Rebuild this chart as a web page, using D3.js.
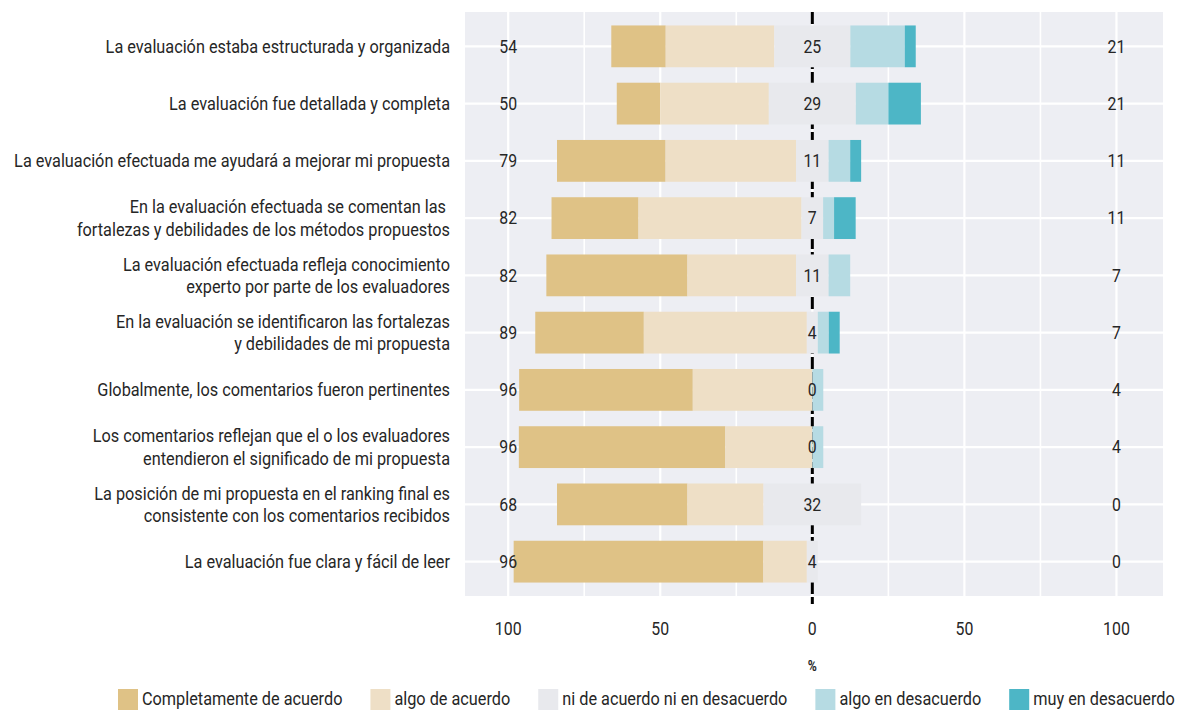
<!DOCTYPE html>
<html>
<head>
<meta charset="utf-8">
<script src="https://cdn.jsdelivr.net/npm/d3@7"></script>
<style>
  body { margin: 0; background: #fff; }
  text { font-family: Roboto, "Liberation Sans", sans-serif; fill: #262626; }
</style>
</head>
<body>
<div id="chart"></div>
<script>
var items = [
  ["La evaluación estaba estructurada y organizada"],
  ["La evaluación fue detallada y completa"],
  ["La evaluación efectuada me ayudará a mejorar mi propuesta"],
  ["En la evaluación efectuada se comentan las ", "fortalezas y debilidades de los métodos propuestos"],
  ["La evaluación efectuada refleja conocimiento", "experto por parte de los evaluadores"],
  ["En la evaluación se identificaron las fortalezas", "y debilidades de mi propuesta"],
  ["Globalmente, los comentarios fueron pertinentes"],
  ["Los comentarios reflejan que el o los evaluadores", "entendieron el significado de mi propuesta"],
  ["La posición de mi propuesta en el ranking final es", "consistente con los comentarios recibidos"],
  ["La evaluación fue clara y fácil de leer"]
];

var levels = ["Completamente de acuerdo", "algo de acuerdo", "ni de acuerdo ni en desacuerdo", "algo en desacuerdo", "muy en desacuerdo"];
var colours = ["#dfc286", "#eedfc6", "#e8e9ed", "#b6dbe3", "#4db6c6"];

// percent per level, one value per item
var completamente = [17.9, 14.3, 35.7, 28.6, 46.4, 35.7, 57.1, 67.9, 42.9, 82.1];
var algoAcuerdo   = [35.7, 35.7, 42.9, 53.6, 35.7, 53.6, 39.3, 28.6, 25.0, 14.3];
var neutral       = [25.0, 28.6, 10.7,  7.1, 10.7,  3.6,  0.0,  0.0, 32.1,  3.6];
var algoDesac     = [17.9, 10.7,  7.1,  3.6,  7.1,  3.6,  3.6,  3.6,  0.0,  0.0];
var muyDesac      = [ 3.6, 10.7,  3.6,  7.1,  0.0,  3.6,  0.0,  0.0,  0.0,  0.0];

var lowLabels     = [54, 50, 79, 82, 82, 89, 96, 96, 68, 96];
var neutralLabels = [25, 29, 11, 7, 11, 4, 0, 0, 32, 4];
var highLabels    = [21, 21, 11, 11, 7, 7, 4, 4, 0, 0];

var xTicks = [-100, -50, 0, 50, 100];
var xMinor = [-75, -25, 25, 75];

var W = 1184, H = 712;
var panel = { left: 465, right: 1163, top: 12, bottom: 596 };
var squeeze = 0.88;  // the original uses a condensed face

var svg = d3.select("#chart").append("svg")
  .attr("width", W)
  .attr("height", H);

var x = d3.scaleLinear()
  .domain([-114.2, 115.3])
  .range([panel.left, panel.right]);

var y = d3.scalePoint()
  .domain(d3.range(items.length))
  .range([panel.top, panel.bottom])
  .padding(0.6);

var barH = y.step() * 0.73;

// text placed at (px, py), narrowed horizontally around that point
function label(parent, px, py, anchor, size) {
  return parent.append("g")
    .attr("transform", "translate(" + px + "," + py + ") scale(" + squeeze + ",1)")
    .append("text")
    .attr("text-anchor", anchor)
    .style("font-size", size + "px");
}

svg.append("rect")
  .attr("x", panel.left)
  .attr("y", panel.top)
  .attr("width", panel.right - panel.left)
  .attr("height", panel.bottom - panel.top)
  .attr("fill", "#edeef3");

// grid
svg.append("g").selectAll("line.minor")
  .data(xMinor)
  .enter().append("line")
  .attr("x1", function(d) { return x(d); })
  .attr("x2", function(d) { return x(d); })
  .attr("y1", panel.top).attr("y2", panel.bottom)
  .attr("stroke", "#fff").attr("stroke-width", 1.6);

svg.append("g").selectAll("line.major")
  .data(xTicks)
  .enter().append("line")
  .attr("x1", function(d) { return x(d); })
  .attr("x2", function(d) { return x(d); })
  .attr("y1", panel.top).attr("y2", panel.bottom)
  .attr("stroke", "#fff").attr("stroke-width", 2.2);

svg.append("g").selectAll("line")
  .data(d3.range(items.length))
  .enter().append("line")
  .attr("x1", panel.left).attr("x2", panel.right)
  .attr("y1", function(d) { return y(d); })
  .attr("y2", function(d) { return y(d); })
  .attr("stroke", "#fff").attr("stroke-width", 2.2);

// zero line sits behind the bars
svg.append("line")
  .attr("x1", x(0)).attr("x2", x(0))
  .attr("y1", panel.top).attr("y2", panel.bottom + 8)
  .attr("stroke", "#000")
  .attr("stroke-width", 3)
  .attr("stroke-dasharray", "12,3");

// build segments: neutral split around zero
var segs = [];
d3.range(items.length).forEach(function(i) {
  var half = neutral[i] / 2;
  var l1 = -half - algoAcuerdo[i];
  segs.push({ row: i, k: 0, x0: l1 - completamente[i], x1: l1 });
  segs.push({ row: i, k: 1, x0: l1, x1: -half });
  segs.push({ row: i, k: 2, x0: -half, x1: half });
  segs.push({ row: i, k: 3, x0: half, x1: half + algoDesac[i] });
  segs.push({ row: i, k: 4, x0: half + algoDesac[i], x1: half + algoDesac[i] + muyDesac[i] });
});

svg.append("g").selectAll("rect")
  .data(segs.filter(function(d) { return d.x1 - d.x0 > 0; }))
  .enter().append("rect")
  .attr("x", function(d) { return x(d.x0); })
  .attr("width", function(d) { return x(d.x1) - x(d.x0); })
  .attr("y", function(d) { return y(d.row) - barH / 2; })
  .attr("height", barH)
  .attr("fill", function(d) { return colours[d.k]; });

// value labels
var fs = 18;
var vl = svg.append("g");
[[lowLabels, -100], [neutralLabels, 0], [highLabels, 100]].forEach(function(p) {
  p[0].forEach(function(v, i) {
    label(vl, x(p[1]), y(i), "middle", fs)
      .attr("dy", "0.35em")
      .text(v);
  });
});

// item labels
var il = svg.append("g");
items.forEach(function(lines, i) {
  var t = label(il, panel.left - 15, y(i), "end", 18.5);
  lines.forEach(function(s, j) {
    t.append("tspan")
      .attr("x", 0)
      .attr("dy", j == 0 ? (0.35 - (lines.length - 1) * 0.61) + "em" : "1.22em")
      .text(s);
  });
});

// x axis
var ax = svg.append("g");
xTicks.forEach(function(d) {
  label(ax, x(d), 629, "middle", fs)
    .attr("dy", "0.35em")
    .text(Math.abs(d));
});

label(ax, x(0), 666, "middle", 14)
  .attr("dy", "0.35em")
  .style("font-weight", "bold")
  .text("%");

// legend
var legend = svg.append("g");
var lx = 118, ly = 699;
levels.forEach(function(t, i) {
  legend.append("rect")
    .attr("x", lx).attr("y", ly - 10)
    .attr("width", 20).attr("height", 21)
    .attr("fill", colours[i]);
  var tx = label(legend, lx + 24, ly, "start", 18.5)
    .attr("dy", "0.35em")
    .text(t);
  lx += 24 + tx.node().getComputedTextLength() * squeeze + 28;
});
</script>
</body>
</html>
